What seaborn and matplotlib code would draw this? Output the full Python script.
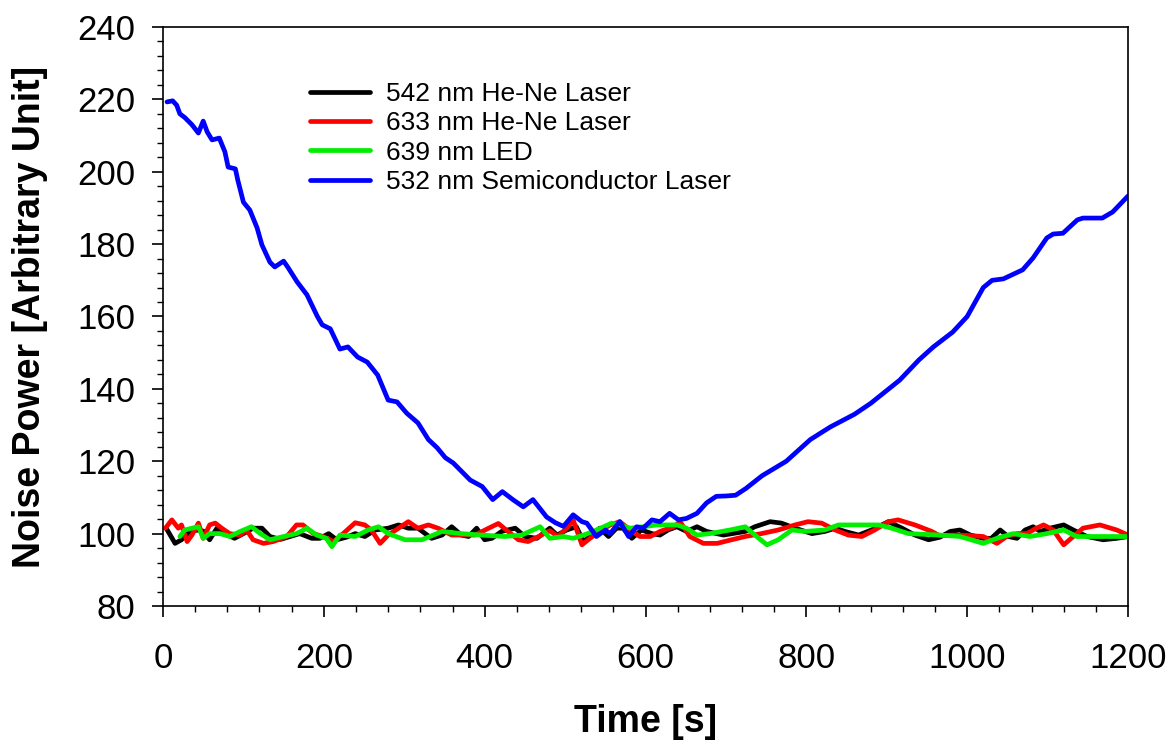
import matplotlib
matplotlib.use("Agg")
import matplotlib.pyplot as plt
from matplotlib.ticker import MultipleLocator
import pandas as pd
import seaborn as sns

labels = [
    "542 nm He-Ne Laser",
    "633 nm He-Ne Laser",
    "639 nm LED",
    "532 nm Semiconductor Laser",
]
colors = ["#000000", "#ff0000", "#00ee00", "#0000ff"]

t_black = [4, 15, 23, 33, 44, 50, 58, 67, 77, 89,
           100, 112, 123, 133, 146, 158, 170, 185, 195, 206,
           216, 228, 239, 251, 264, 280, 293, 305, 317, 334,
           347, 359, 371, 380, 390, 400, 409, 421, 438, 450,
           465, 481, 490, 502, 514, 523, 535, 543, 554, 564,
           572, 583, 595, 608, 618, 628, 639, 651, 664, 676,
           697, 724, 736, 755, 769, 786, 807, 823, 836, 848,
           865, 881, 902, 919, 935, 952, 966, 979, 991, 1004,
           1020, 1030, 1041, 1051, 1062, 1072, 1082, 1091, 1103, 1120,
           1132, 1149, 1169, 1186, 1200]
y_black = [101.5, 97.3, 98.3, 100.6, 101.0, 100.7, 98.3, 101.5, 100.0, 98.7,
           100.0, 101.5, 101.5, 99.2, 98.4, 99.2, 100.0, 98.7, 98.7, 100.0,
           98.3, 99.0, 100.0, 99.2, 101.0, 101.5, 102.4, 101.5, 101.5, 98.7,
           99.6, 101.9, 99.6, 99.2, 101.5, 98.3, 98.7, 100.6, 101.5, 99.2,
           98.7, 101.5, 99.6, 101.0, 101.9, 97.8, 100.0, 101.5, 99.2, 101.5,
           101.5, 98.7, 101.0, 100.0, 99.6, 101.0, 101.9, 100.6, 101.9, 100.6,
           99.6, 100.6, 101.9, 103.3, 102.9, 101.5, 100.0, 100.6, 101.5, 100.6,
           99.6, 101.0, 103.3, 101.5, 99.6, 98.3, 99.0, 100.6, 101.0, 99.6,
           98.7, 98.7, 101.0, 99.2, 98.7, 101.0, 101.9, 100.6, 101.5, 102.4,
           101.0, 99.2, 98.3, 98.7, 99.2]

t_red = [3, 11, 19, 23, 30, 36, 44, 50, 58, 65,
         73, 83, 96, 104, 112, 125, 137, 154, 166, 174,
         187, 199, 212, 224, 239, 251, 259, 270, 280, 293,
         305, 317, 330, 342, 359, 376, 388, 405, 417, 429,
         442, 454, 467, 481, 491, 502, 510, 521, 531, 543,
         556, 568, 581, 593, 606, 618, 635, 643, 655, 672,
         689, 707, 724, 744, 765, 786, 802, 819, 836, 852,
         869, 885, 902, 914, 935, 956, 966, 983, 999, 1020,
         1037, 1049, 1062, 1074, 1086, 1095, 1107, 1120, 1132, 1144,
         1165, 1186, 1200]
y_red = [101.5, 103.8, 101.5, 102.4, 97.8, 99.6, 102.9, 98.7, 102.4, 102.9,
         101.5, 100.0, 99.6, 101.0, 98.3, 97.3, 97.8, 99.2, 102.4, 102.4,
         100.0, 99.2, 97.8, 100.0, 103.0, 102.4, 101.0, 97.3, 99.6, 101.5,
         103.3, 101.5, 102.4, 101.5, 99.6, 99.6, 99.6, 101.5, 102.8, 100.6,
         98.3, 97.8, 99.2, 100.8, 99.2, 101.5, 103.8, 96.9, 98.7, 100.6,
         102.4, 103.3, 101.0, 99.2, 99.2, 100.6, 101.9, 103.3, 99.2, 97.3,
         97.3, 98.3, 99.2, 100.0, 101.0, 102.4, 103.3, 102.9, 101.0, 99.6,
         99.2, 101.0, 103.3, 103.8, 102.4, 100.6, 99.4, 99.6, 99.5, 99.2,
         97.3, 99.2, 100.0, 100.0, 101.5, 102.4, 101.0, 96.9, 99.2, 101.5,
         102.4, 101.0, 99.6]

t_green = [21, 27, 36, 44, 50, 58, 71, 83, 96, 110,
           121, 133, 150, 166, 179, 191, 203, 210, 220, 239,
           255, 268, 280, 301, 322, 347, 371, 396, 425, 446,
           469, 481, 498, 510, 523, 535, 548, 558, 568, 581,
           597, 614, 639, 651, 664, 680, 705, 724, 736, 751,
           765, 782, 798, 823, 840, 865, 890, 906, 927, 966,
           991, 1020, 1037, 1057, 1078, 1099, 1120, 1136, 1165, 1200]
y_green = [99.2, 101.0, 101.5, 101.9, 98.7, 100.0, 100.0, 99.2, 100.6, 101.9,
           100.0, 98.3, 99.2, 100.0, 101.5, 99.6, 98.7, 96.4, 99.6, 99.2,
           101.0, 101.9, 100.0, 98.3, 98.3, 100.6, 100.0, 99.6, 99.2, 99.6,
           101.9, 98.7, 99.2, 98.7, 99.6, 100.6, 101.9, 102.9, 102.4, 101.5,
           101.9, 102.4, 102.4, 101.5, 99.6, 100.0, 101.0, 101.9, 99.6, 96.9,
           98.3, 101.0, 100.6, 101.0, 102.4, 102.4, 102.4, 101.5, 100.0, 99.6,
           99.2, 97.3, 98.7, 100.0, 99.2, 100.0, 101.0, 99.2, 99.2, 99.2]

t_blue = [5, 12, 17, 21, 27, 36, 44, 50, 55, 61,
          70, 77, 81, 90, 93, 100, 108, 117, 123, 133,
          139, 150, 155, 167, 179, 192, 198, 208, 220, 230,
          242, 254, 267, 280, 291, 303, 317, 330, 341, 351,
          361, 382, 397, 410, 422, 435, 448, 460, 477, 488,
          498, 510, 521, 527, 539, 550, 556, 568, 579, 589,
          597, 608, 618, 630, 641, 651, 664, 676, 688, 700,
          712, 725, 745, 775, 805, 830, 860, 880, 916, 940,
          958, 982, 1000, 1020, 1031, 1045, 1069, 1082, 1099, 1107,
          1119, 1137, 1144, 1168, 1181, 1200]
y_blue = [219.3, 219.6, 218.4, 216.0, 215.0, 213.0, 210.7, 214.0, 211.0, 208.8,
          209.3, 205.5, 201.3, 200.8, 197.7, 191.6, 189.4, 184.5, 179.8, 175.0,
          173.7, 175.3, 173.7, 169.5, 166.0, 160.0, 157.7, 156.6, 151.0, 151.6,
          148.8, 147.4, 143.8, 136.9, 136.4, 133.3, 130.6, 126.0, 123.7, 121.0,
          119.5, 114.8, 113.0, 109.4, 111.6, 109.4, 107.4, 109.4, 104.6, 103.0,
          102.0, 105.2, 103.3, 102.9, 99.2, 101.0, 100.0, 103.3, 99.2, 101.9,
          101.5, 103.8, 103.3, 105.6, 103.8, 104.2, 105.6, 108.5, 110.3, 110.4,
          110.6, 112.5, 116.0, 120.0, 126.0, 129.5, 133.0, 136.0, 142.4, 148.0,
          151.6, 155.7, 160.0, 168.0, 170.0, 170.4, 172.9, 176.2, 181.7, 182.8,
          183.0, 186.7, 187.2, 187.2, 188.9, 193.3]

frames = []
for lab, t, y in zip(labels, [t_black, t_red, t_green, t_blue],
                     [y_black, y_red, y_green, y_blue]):
    frames.append(pd.DataFrame({"time": t, "power": y, "source": lab}))
df = pd.concat(frames, ignore_index=True)

sns.set_style("ticks")
plt.rcParams["font.family"] = ["Liberation Sans", "DejaVu Sans"]
plt.rcParams["text.color"] = "black"
plt.rcParams["axes.labelcolor"] = "black"
plt.rcParams["xtick.color"] = "black"
plt.rcParams["ytick.color"] = "black"

fig = plt.figure(figsize=(11.76, 7.4), dpi=100)
ax = fig.add_axes([0.1386, 0.1811, 0.8206, 0.7824])

sns.lineplot(
    data=df, x="time", y="power", hue="source",
    hue_order=labels, palette=colors,
    estimator=None, sort=False, linewidth=3.4, ax=ax,
)

ax.set_xlim(0, 1200)
ax.set_ylim(80, 240)
ax.xaxis.set_major_locator(MultipleLocator(200))
ax.xaxis.set_minor_locator(MultipleLocator(40))
ax.yaxis.set_major_locator(MultipleLocator(20))
ax.yaxis.set_minor_locator(MultipleLocator(4))

ax.tick_params(axis="both", which="major", direction="out", length=8,
               width=1.2, color="black", labelcolor="black", labelsize=25)
ax.tick_params(axis="x", which="major", pad=18)
ax.tick_params(axis="y", which="major", pad=12)
ax.tick_params(axis="both", which="minor", direction="out", length=4,
               width=1.0, color="black")
for side in ["left", "bottom", "right", "top"]:
    ax.spines[side].set_visible(True)
    ax.spines[side].set_color("black")
    ax.spines[side].set_linewidth(1.2)

ax.set_xlabel("Time [s]", fontsize=27, fontweight="bold", color="black")
ax.set_ylabel("Noise Power [Arbitrary Unit]", fontsize=27,
              fontweight="bold", color="black")
ax.xaxis.set_label_coords(0.5, -0.169)
ax.yaxis.set_label_coords(-0.119, 0.5)

handles, labs = ax.get_legend_handles_labels()
leg = ax.legend(
    handles, labs, loc="upper left", bbox_to_anchor=(0.152, 0.905),
    frameon=False, fontsize=19, handlelength=2.3, handletextpad=0.6,
    labelspacing=0.2, borderpad=0, borderaxespad=0,
)
for txt in leg.get_texts():
    txt.set_color("black")

plt.savefig("out.png", dpi=100)
plt.close()
